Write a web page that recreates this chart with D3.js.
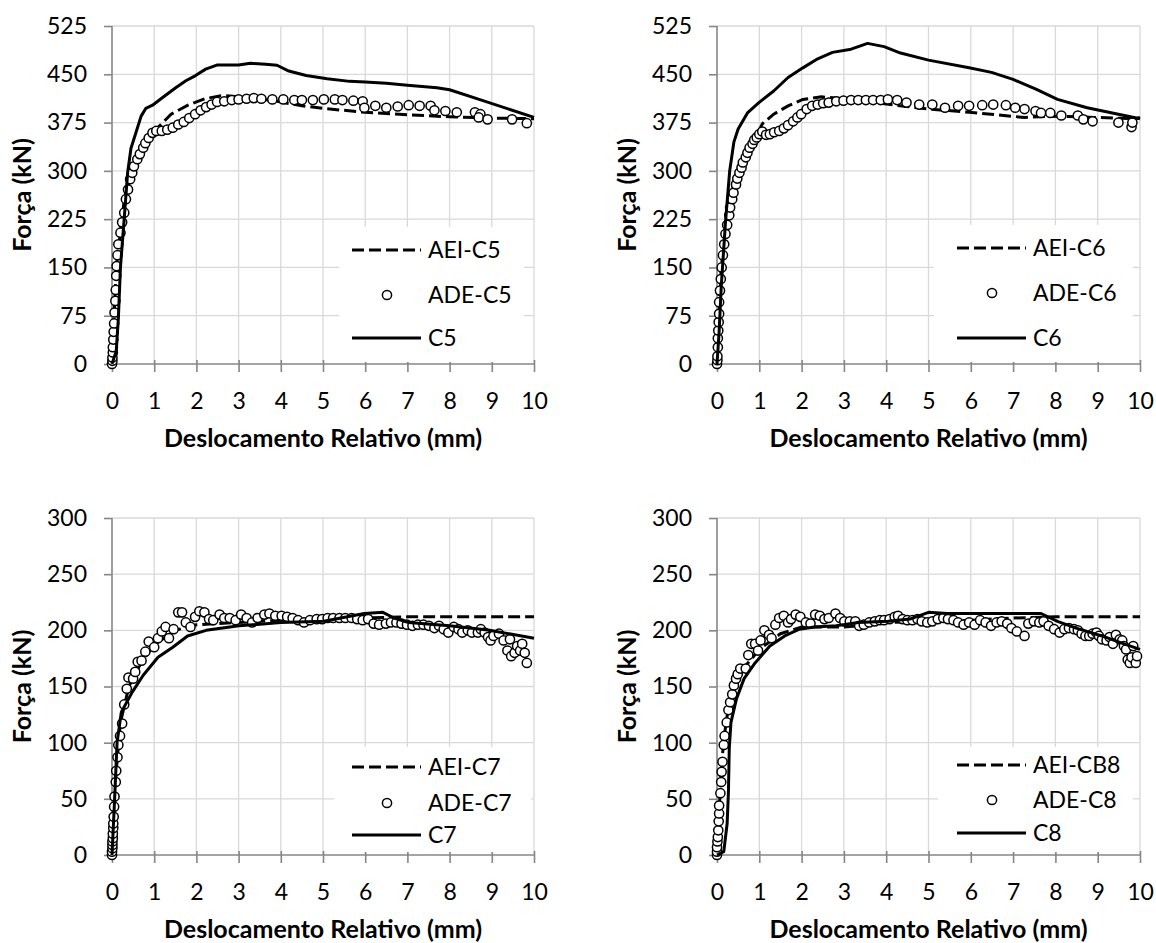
<!DOCTYPE html>
<html><head><meta charset="utf-8">
<script src="https://cdn.jsdelivr.net/npm/d3@7"></script>
<style>
body{margin:0;background:#fff}
svg{display:block}
text{font-family:Lato,"Open Sans",sans-serif;fill:#000}
</style>
</head><body>
<svg id="chart" width="1156" height="943"></svg>
<script>
// ---------- DATA ----------
const xTicks = [0,1,2,3,4,5,6,7,8,9,10];
const yTicksTop = [0,75,150,225,300,375,450,525];
const yTicksBottom = [0,50,100,150,200,250,300];
const xTitle = "Deslocamento Relativo (mm)";
const yTitle = "Força (kN)";

const legendC5 = ["AEI-C5","ADE-C5","C5"];
const legendC6 = ["AEI-C6","ADE-C6","C6"];
const legendC7 = ["AEI-C7","ADE-C7","C7"];
const legendC8 = ["AEI-CB8","ADE-C8","C8"];

// C5
const aeiC5 = [[0,0],[0.1,150],[0.3,260],[0.6,320],[0.9,352],[1.1,368],[1.4,388],[1.8,402],[2.2,412],[2.6,417],[3.0,415],[3.5,412],[4.0,407],[4.5,401],[5.0,397],[6.0,391],[7.0,387],[8.0,384],[9.0,382],[10,381]];
const adeC5 = [[0,0],[0.01,5],[0.01,10],[0.02,18],[0.02,26],[0.03,38],[0.04,50],[0.05,63],[0.06,80],[0.08,98],[0.09,115],[0.1,137],[0.11,152],[0.13,169],[0.15,186],[0.2,204],[0.24,220],[0.29,235],[0.33,256],[0.38,271],[0.43,287],[0.48,297],[0.52,307],[0.6,318],[0.66,326],[0.74,336],[0.79,343],[0.87,351],[0.96,359],[1.05,362],[1.18,362],[1.31,364],[1.44,367],[1.57,372],[1.7,376],[1.83,382],[1.97,388],[2.1,394],[2.23,399],[2.36,403],[2.49,407],[2.66,408],[2.84,410],[3.0,411],[3.19,412],[3.36,413],[3.54,412],[3.8,411],[4.06,411],[4.32,410],[4.5,410],[4.76,410],[5.02,411],[5.28,411],[5.46,410],[5.72,409],[5.94,408],[5.98,398],[6.24,401],[6.5,398],[6.77,400],[7.03,402],[7.29,401],[7.55,401],[7.64,394],[7.9,393],[8.17,391],[8.6,391],[8.73,388],[8.69,383],[8.9,380],[9.48,380],[9.83,374]];
const expC5 = [[0,0],[0.1,20],[0.15,70],[0.2,150],[0.3,235],[0.37,297],[0.45,335],[0.57,360],[0.69,385],[0.8,397],[0.96,402],[1.2,414],[1.51,429],[1.75,440],[1.98,448],[2.22,458],[2.5,464.5],[3.0,464.5],[3.28,467],[3.64,465.5],[3.91,464],[4.19,455],[4.6,448],[5.1,443],[5.63,439],[6.0,438],[6.5,436],[7.0,433],[7.7,429],[8.0,426],[8.7,411],[10,383]];

// C6
const aeiC6 = [[0,0],[0.1,150],[0.3,260],[0.6,315],[0.9,350],[1.07,373],[1.34,388],[1.68,401],[2.03,411],[2.47,415],[2.82,413],[3.17,411],[4.22,402],[5.0,396],[5.96,391],[7.27,383],[8.05,385],[8.93,383],[9.9,381],[10,383]];
const adeC6 = [[0,0],[0.01,6],[0.01,12],[0.02,26],[0.02,40],[0.03,52],[0.04,65],[0.05,78],[0.05,96],[0.07,114],[0.09,132],[0.11,150],[0.14,169],[0.17,186],[0.2,202],[0.24,216],[0.29,231],[0.31,243],[0.36,256],[0.39,266],[0.45,279],[0.48,288],[0.53,297],[0.58,305],[0.61,313],[0.68,321],[0.72,328],[0.77,336],[0.84,342],[0.88,348],[0.94,352],[1.0,357],[1.07,361],[1.16,356],[1.25,357],[1.35,360],[1.47,362],[1.58,366],[1.68,371],[1.8,377],[1.9,383],[1.99,388],[2.12,396],[2.25,401],[2.38,403],[2.51,405],[2.64,406],[2.82,408],[2.99,409],[3.17,410],[3.34,410],[3.52,410],[3.69,410],[3.87,410],[4.04,411],[4.26,410],[4.48,406],[4.78,403],[5.09,403],[5.39,398],[5.7,401],[5.96,401],[6.27,402],[6.53,403],[6.83,402],[7.05,398],[7.27,396],[7.53,393],[7.66,390],[7.88,390],[8.14,386],[8.53,386],[8.66,380],[8.88,377],[9.49,375],[9.8,368],[9.82,375]];
const expC6 = [[0,0],[0.05,50],[0.1,120],[0.2,220],[0.3,300],[0.4,345],[0.5,365],[0.72,390],[0.99,406],[1.34,424],[1.68,445],[2.03,460],[2.38,474],[2.73,484],[3.17,489],[3.56,498],[3.95,493],[4.34,483],[5.0,472],[5.96,460],[6.49,453],[7.0,442],[7.54,427],[8.05,411],[8.75,398],[10,381]];

// C7
const aeiC7 = [[0,0],[0.1,75],[0.2,118],[0.4,150],[0.7,172],[1.0,187],[1.5,200],[2.0,205],[3.0,207],[4,209],[5,210],[6,211],[7,212],[8,212],[9,212],[10,212]];
const adeC7 = [[0,0],[0,3],[0.01,6],[0.01,9],[0.01,12],[0.02,15],[0.02,19],[0.03,24],[0.03,28],[0.04,34],[0.05,43],[0.06,52],[0.09,65],[0.1,75],[0.13,87],[0.15,98],[0.19,106],[0.24,117],[0.29,134],[0.35,148],[0.39,158],[0.5,157],[0.55,163],[0.61,172],[0.7,173],[0.79,181],[0.87,190],[1.0,185],[1.09,193],[1.18,199],[1.27,203],[1.35,193],[1.46,201],[1.57,216],[1.66,216],[1.75,207],[1.86,203],[1.97,212],[2.07,217],[2.19,216],[2.3,210],[2.4,209],[2.55,214],[2.66,211],[2.79,211],[2.93,209],[3.06,214],[3.19,211],[3.32,207],[3.45,211],[3.61,214],[3.73,215],[3.87,213],[4.02,213],[4.15,212],[4.28,211],[4.41,209],[4.55,207],[4.69,209],[4.85,210],[4.98,210],[5.11,211],[5.24,211],[5.39,211],[5.53,211],[5.68,211],[5.81,210],[5.94,209],[6.07,210],[6.2,206],[6.33,205],[6.49,206],[6.61,207],[6.74,207],[6.86,206],[6.99,205],[7.12,204],[7.25,205],[7.38,205],[7.51,204],[7.64,202],[7.75,204],[7.86,201],[7.97,198],[8.1,203],[8.21,201],[8.3,198],[8.43,200],[8.53,198],[8.67,198],[8.74,201],[8.83,198],[8.91,194],[8.97,191],[9.04,195],[9.17,197],[9.28,191],[9.37,182],[9.46,177],[9.43,192],[9.54,180],[9.6,186],[9.67,182],[9.72,188],[9.78,180],[9.83,171]];
const expC7 = [[0,0],[0.05,40],[0.12,100],[0.22,127],[0.48,145],[0.74,160],[1.09,176],[1.44,185],[1.79,195],[2.23,200],[3.01,204],[4.0,207],[5.02,208],[5.98,215],[6.42,216],[6.68,211],[7.03,207],[8.0,204],[8.95,200],[10,193]];

// C8
const aeiC8 = [[0,0],[0.05,40],[0.15,100],[0.3,140],[0.6,165],[1.0,183],[1.5,197],[2.0,203],[3.0,203],[3.3,204],[4.0,207],[5,208],[6,209],[7,211],[8,212],[9,212],[10,212]];
const adeC8 = [[0,0],[0,3],[0,7],[0.01,12],[0.02,16],[0.03,22],[0.04,30],[0.05,37],[0.05,44],[0.08,55],[0.1,65],[0.11,74],[0.13,83],[0.16,98],[0.18,106],[0.23,118],[0.27,129],[0.31,136],[0.36,143],[0.4,151],[0.45,157],[0.49,161],[0.55,166],[0.68,166],[0.74,178],[0.81,188],[0.9,188],[0.97,182],[1.03,191],[1.12,200],[1.23,196],[1.29,193],[1.38,205],[1.47,211],[1.58,213],[1.68,207],[1.75,210],[1.86,214],[1.97,212],[2.1,207],[2.21,206],[2.32,214],[2.43,213],[2.54,210],[2.64,211],[2.8,215],[2.91,211],[3.01,208],[3.14,208],[3.27,208],[3.36,204],[3.47,205],[3.6,207],[3.73,208],[3.85,209],[3.95,209],[4.08,210],[4.2,212],[4.28,213],[4.39,210],[4.5,209],[4.62,209],[4.74,210],[4.84,208],[4.97,207],[5.09,208],[5.22,210],[5.35,211],[5.46,210],[5.59,209],[5.7,207],[5.83,205],[5.96,207],[6.09,205],[6.22,209],[6.35,207],[6.48,204],[6.61,207],[6.73,208],[6.86,206],[6.96,202],[7.09,199],[7.27,195],[7.36,206],[7.49,208],[7.62,207],[7.72,208],[7.84,204],[7.97,201],[8.1,198],[8.21,201],[8.32,202],[8.44,201],[8.53,200],[8.62,197],[8.71,195],[8.8,195],[8.88,197],[8.97,198],[9.03,195],[9.1,192],[9.21,191],[9.28,194],[9.36,188],[9.43,196],[9.52,192],[9.58,191],[9.62,186],[9.67,183],[9.71,174],[9.76,171],[9.8,176],[9.84,186],[9.9,171],[9.93,177]];
const expC8 = [[0,0],[0.16,3],[0.24,28],[0.27,56],[0.29,95],[0.33,118],[0.46,139],[0.64,157],[0.9,171],[1.25,186],[1.6,195],[1.95,201],[2.3,203],[2.82,204],[3.34,207],[4.04,208],[4.56,210],[5.0,216],[5.44,215],[6.31,215],[7.66,215],[8.05,208],[8.49,202],[9.1,195],[9.62,188],[10,183]];

// ---------- LAYOUT ----------
const panels = [
  {left:112,right:534,top:26,bottom:364,yMax:525,yTicks:yTicksTop,aei:aeiC5,ade:adeC5,exp:expC5,legend:legendC5,
   lg:{box:[339,227,524,362],rows:[250,295,338]}},
  {left:717,right:1140,top:26,bottom:364,yMax:525,yTicks:yTicksTop,aei:aeiC6,ade:adeC6,exp:expC6,legend:legendC6,
   lg:{box:[934,225,1133,362],rows:[248,293,338]}},
  {left:112,right:534,top:518,bottom:855,yMax:300,yTicks:yTicksBottom,aei:aeiC7,ade:adeC7,exp:expC7,legend:legendC7,
   lg:{box:[334,747,531,852],rows:[767,803,835]}},
  {left:717,right:1140,top:518,bottom:855,yMax:300,yTicks:yTicksBottom,aei:aeiC8,ade:adeC8,exp:expC8,legend:legendC8,
   lg:{box:[938,747,1133,852],rows:[765,800,833]}}
];

const svg = d3.select("#chart");
const GRID="#d9d9d9", AXIS="#868686";
const FS=23, TFS=25;

panels.forEach(p=>{
  const x = d3.scaleLinear().domain([0,10]).range([p.left,p.right]);
  const y = d3.scaleLinear().domain([0,p.yMax]).range([p.bottom,p.top]);
  const g = svg.append("g");

  // gridlines
  g.selectAll(".vg").data(xTicks.filter(d=>d>0)).join("line")
    .attr("x1",d=>x(d)).attr("x2",d=>x(d)).attr("y1",p.top).attr("y2",p.bottom)
    .attr("stroke",GRID).attr("stroke-width",1.3);
  g.selectAll(".hg").data(p.yTicks.filter(d=>d>0)).join("line")
    .attr("x1",p.left).attr("x2",p.right).attr("y1",d=>y(d)).attr("y2",d=>y(d))
    .attr("stroke",GRID).attr("stroke-width",1.3);

  // axes
  const xa = g.append("g").attr("transform",`translate(0,${p.bottom})`)
    .call(d3.axisBottom(x).tickValues(xTicks).tickSize(8).tickPadding(21).tickFormat(d3.format("d")));
  const ya = g.append("g").attr("transform",`translate(${p.left},0)`)
    .call(d3.axisLeft(y).tickValues(p.yTicks).tickSize(8).tickPadding(17).tickFormat(d3.format("d")));
  [xa,ya].forEach(a=>{
    a.select(".domain").attr("stroke",AXIS).attr("stroke-width",1.6).attr("d",
      a===xa ? `M${p.left},0H${p.right}` : `M0,${p.top}V${p.bottom}`);
    a.selectAll(".tick line").attr("stroke",AXIS).attr("stroke-width",1.6);
    a.selectAll(".tick text").style("font-family","Lato").style("font-size",FS+"px").attr("fill","#000");
  });
  xa.selectAll(".tick line").attr("y1",-4);

  // axis titles
  svg.append("text").attr("x",(p.left+p.right)/2).attr("y",p.bottom+83)
    .attr("text-anchor","middle").style("font-size",TFS+"px").style("font-weight","bold").text(xTitle);
  svg.append("text").attr("transform",`translate(${p.left-81},${(p.top+p.bottom)/2}) rotate(-90)`)
    .attr("text-anchor","middle").style("font-size",TFS+"px").style("font-weight","bold").text(yTitle);

  // series
  const line = d3.line().x(d=>x(d[0])).y(d=>y(d[1]));
  g.append("path").datum(p.aei).attr("d",line).attr("fill","none")
    .attr("stroke","#000").attr("stroke-width",3).attr("stroke-dasharray","12,5");
  g.selectAll(".ade").data(p.ade).join("circle")
    .attr("cx",d=>x(d[0])).attr("cy",d=>y(d[1])).attr("r",4.6)
    .attr("fill","#fff").attr("stroke","#000").attr("stroke-width",1.5);
  g.append("path").datum(p.exp).attr("d",line).attr("fill","none")
    .attr("stroke","#000").attr("stroke-width",3).attr("stroke-linejoin","round");

  // legend
  const b = p.lg.box;
  const lx0 = p.left+240, lx1 = p.left+309, tx = p.left+316, mx = p.left+275;
  svg.append("rect").attr("x",b[0]).attr("y",b[1]).attr("width",b[2]-b[0]).attr("height",b[3]-b[1]).attr("fill","#fff");
  const r = p.lg.rows;
  svg.append("line").attr("x1",lx0).attr("x2",lx1).attr("y1",r[0]).attr("y2",r[0])
    .attr("stroke","#000").attr("stroke-width",3).attr("stroke-dasharray","12,5");
  svg.append("circle").attr("cx",mx).attr("cy",r[1]).attr("r",4.6)
    .attr("fill","#fff").attr("stroke","#000").attr("stroke-width",1.5);
  svg.append("line").attr("x1",lx0).attr("x2",lx1).attr("y1",r[2]).attr("y2",r[2])
    .attr("stroke","#000").attr("stroke-width",3);
  p.legend.forEach((t,i)=>{
    svg.append("text").attr("x",tx).attr("y",r[i]+8).style("font-size",FS+"px").text(t);
  });
});
</script>
</body></html>
